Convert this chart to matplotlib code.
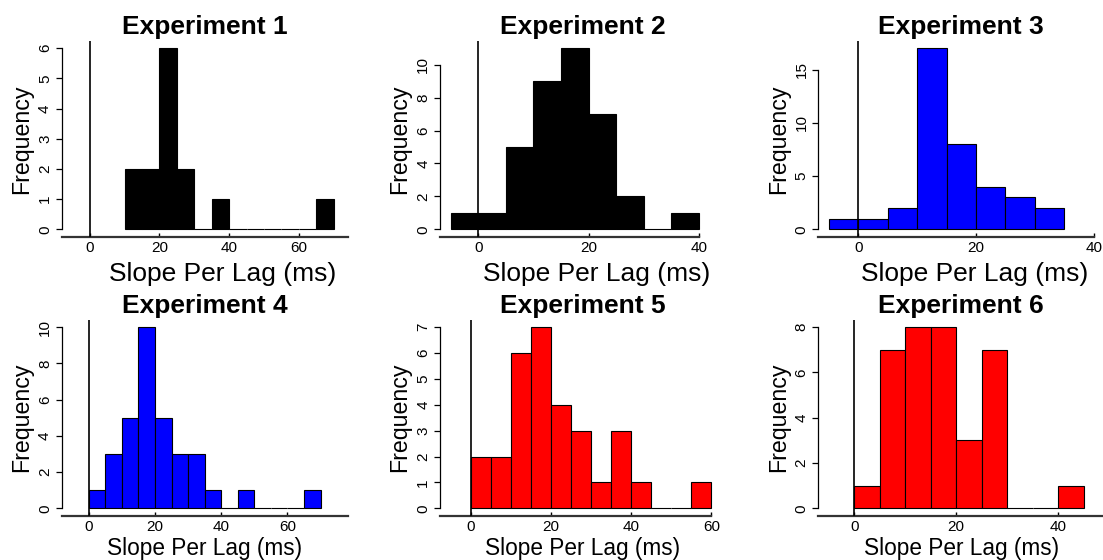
import numpy as np
import matplotlib
matplotlib.use("Agg")
import matplotlib.pyplot as plt

plt.rcParams['font.family'] = ['Liberation Sans', 'DejaVu Sans']

# --- bin edges (5 ms wide) and counts ---
edges_1 = [10, 15, 20, 25, 30, 35, 40, 45, 50, 55, 60, 65, 70]
counts_1 = [2, 2, 6, 2, 0, 1, 0, 0, 0, 0, 0, 1]

edges_2 = [-5, 0, 5, 10, 15, 20, 25, 30, 35, 40]
counts_2 = [1, 1, 5, 9, 11, 7, 2, 0, 1]

edges_3 = [-5, 0, 5, 10, 15, 20, 25, 30, 35]
counts_3 = [1, 1, 2, 17, 8, 4, 3, 2]

edges_4 = [0, 5, 10, 15, 20, 25, 30, 35, 40, 45, 50, 55, 60, 65, 70]
counts_4 = [1, 3, 5, 10, 5, 3, 3, 1, 0, 1, 0, 0, 0, 1]

edges_5 = [0, 5, 10, 15, 20, 25, 30, 35, 40, 45, 50, 55, 60]
counts_5 = [2, 2, 6, 7, 4, 3, 1, 3, 1, 0, 0, 1]

edges_6 = [0, 5, 10, 15, 20, 25, 30, 35, 40, 45]
counts_6 = [1, 7, 8, 8, 3, 7, 0, 0, 1]

titles = ['Experiment 1', 'Experiment 2', 'Experiment 3',
          'Experiment 4', 'Experiment 5', 'Experiment 6']
colors = ['black', 'black', 'blue', 'blue', 'red', 'red']
xlims = [(-5, 71), (-5, 43), (-5, 40), (-5, 75), (-5, 61), (-5, 47)]
xticks = [[-20, 0, 20, 40, 60, 80], [-20, 0, 20, 40], [-20, 0, 20, 40],
          [-20, 0, 20, 40, 60, 80], [-20, 0, 20, 40, 60], [-20, 0, 20, 40, 60]]
yticks = [[0, 1, 2, 3, 4, 5, 6], [0, 2, 4, 6, 8, 10], [0, 5, 10, 15],
          [0, 2, 4, 6, 8, 10], [0, 1, 2, 3, 4, 5, 6, 7], [0, 2, 4, 6, 8]]

all_edges = [edges_1, edges_2, edges_3, edges_4, edges_5, edges_6]
all_counts = [counts_1, counts_2, counts_3, counts_4, counts_5, counts_6]

W, H = 1103, 560
fig = plt.figure(figsize=(W / 100, H / 100), dpi=100)

# plot regions in pixels (left, top), same size for all panels
lefts = [61.7, 440, 818.3]
tops = [41, 320]
pw, ph = 286, 195.5
top_xlab_x = [0.562, 0.547, 0.548]

for i in range(6):
    r, c = i // 3, i % 3
    ax = fig.add_axes([lefts[c] / W, (H - tops[r] - ph) / H, pw / W, ph / H])

    edges = np.array(all_edges[i], dtype=float)
    counts = np.array(all_counts[i])
    ax.bar(edges[:-1], counts, width=np.diff(edges), align='edge',
           color=colors[i], edgecolor='black', linewidth=0.8, zorder=2)
    ax.axvline(0, color='black', linewidth=1.2, zorder=3)

    # R style limits: 4% padding each side
    a, b = xlims[i]
    lo, hi = a - 0.04 * (b - a), b + 0.04 * (b - a)
    ymax = max(counts)
    ax.set_xlim(lo, hi)
    ax.set_ylim(-0.04 * ymax, 1.04 * ymax)

    xt = [t for t in xticks[i] if lo <= t <= hi]
    ax.set_xticks(xt)
    ax.set_yticks(yticks[i])

    for s in ['top', 'right']:
        ax.spines[s].set_visible(False)
    ax.spines['bottom'].set_bounds(max(lo, min(xticks[i])), min(hi, max(xticks[i])))
    ax.spines['bottom'].set_color('#333333')
    ax.spines['bottom'].set_linewidth(1.6)
    ax.spines['left'].set_bounds(0, yticks[i][-1])
    ax.spines['left'].set_linewidth(0.9)

    ax.tick_params(axis='x', direction='in', length=3, width=1, pad=3.5,
                   labelsize=11, colors='black')
    ax.tick_params(axis='y', direction='out', length=4, width=0.9, pad=3,
                   labelsize=11)
    for lab in ax.get_yticklabels():
        lab.set_rotation(90)
        lab.set_va('center')

    ax.set_title(titles[i], fontsize=19, fontweight='bold', pad=5)
    # top row x labels are drawn larger and slightly right of centre
    if r == 0:
        ax.set_xlabel('Slope Per Lag (ms)', fontsize=19)
        ax.xaxis.set_label_coords(top_xlab_x[c], -0.13)
    else:
        ax.set_xlabel('Slope Per Lag (ms)', fontsize=16.3)
        ax.xaxis.set_label_coords(0.5, -0.112)
    ax.set_ylabel('Frequency', fontsize=16.7)
    ax.yaxis.set_label_coords(-0.1, 0.5)

fig.savefig('out.png', dpi=100)
